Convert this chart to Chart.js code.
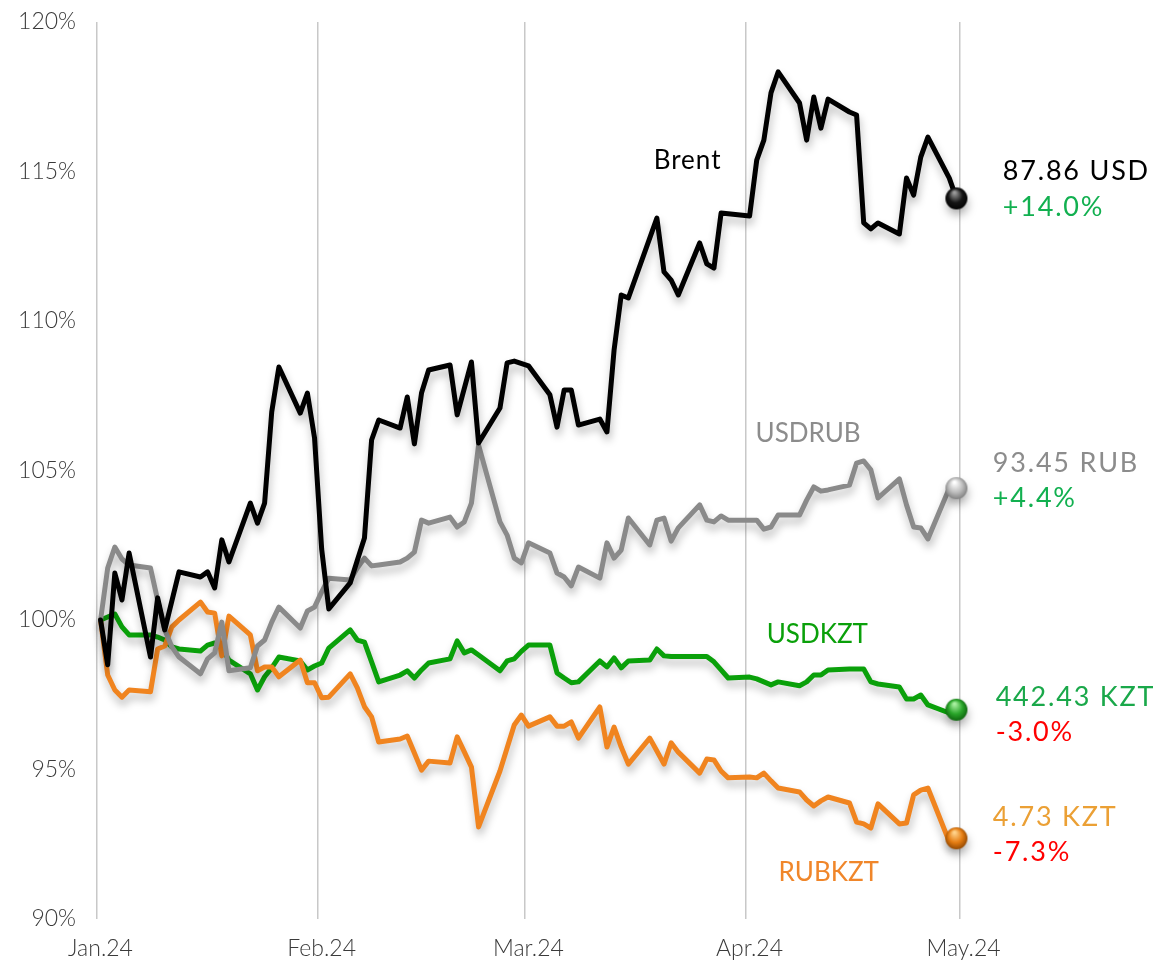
<!DOCTYPE html>
<html>
<head>
<meta charset="utf-8">
<script src="https://cdn.jsdelivr.net/npm/chart.js@4.4.1/dist/chart.umd.min.js"></script>
<style>
html,body{margin:0;padding:0;background:#fff;}
#wrap{width:1153px;height:962px;position:relative;}
</style>
</head>
<body>
<div id="wrap"><canvas id="c"></canvas></div>
<script>
// ---- tick labels ----
const monthLabels = ['Jan.24','Feb.24','Mar.24','Apr.24','May.24'];
const monthTickDays = [-0.5, 30.5, 59.5, 90.5, 120.5]; // boundaries between months (day 0 = 1 Jan 2024)

// ---- Brent ----
const brentDays = [0,1,2,3,4,7,8,9,11,14,15,16,17,18,21,22,23,24,25,28,29,30,31,32,35,36,37,38,39,42,43,44,45,46,49,50,52,53,56,57,58,60,63,64,65,66,67,70,71,72,73,74,78,79,80,81,84,85,86,87,91,92,93,94,95,98,99,100,101,102,105,106,107,108,109,112,113,114,115,116,119,120];
const brentVals = [100.0,98.5,101.57,100.67,102.24,98.76,100.74,99.67,101.61,101.44,101.61,101.07,102.68,101.94,103.91,103.24,103.91,106.96,108.46,106.92,107.59,106.09,102.37,100.37,101.24,102.0,102.74,106.02,106.69,106.42,107.46,105.89,107.59,108.36,108.53,106.86,108.63,105.92,107.09,108.6,108.66,108.5,107.53,106.45,107.69,107.69,106.52,106.72,106.29,109.03,110.87,110.77,113.44,111.64,111.37,110.87,112.61,111.91,111.77,113.61,113.51,115.38,116.05,117.63,118.33,117.29,116.05,117.49,116.45,117.42,116.99,116.89,113.28,113.08,113.28,112.91,114.78,114.21,115.48,116.15,114.78,114.1];

// ---- common trading days for FX series ----
const fxDays = [0,1,2,3,4,7,8,9,10,11,14,15,16,17,18,21,22,23,24,25,28,29,30,31,32,35,36,37,38,39,42,43,44,45,46,49,50,51,52,53,56,57,58,59,60,63,64,65,66,67,70,71,72,73,74,77,78,79,80,81,84,85,86,87,88,91,92,93,94,95,98,99,100,101,102,105,106,107,108,109,112,113,114,115,116,119,120];

const usdrubVals = [100.0,101.74,102.44,102.04,101.84,101.74,100.67,99.67,99.1,98.76,98.2,98.7,98.9,99.93,98.3,98.4,99.13,99.33,99.93,100.43,99.73,100.3,100.43,100.94,101.4,101.34,101.74,102.07,101.81,101.84,101.94,102.07,102.27,103.34,103.24,103.44,103.11,103.28,103.91,105.85,103.28,102.84,102.07,101.91,102.58,102.24,101.57,101.44,101.14,101.77,101.4,102.58,102.07,102.34,103.41,102.51,103.34,103.41,102.64,103.08,103.85,103.34,103.28,103.48,103.34,103.34,103.34,103.04,103.11,103.51,103.51,104.01,104.45,104.31,104.35,104.51,105.25,105.32,105.02,104.08,104.72,103.85,103.11,103.08,102.71,104.41,104.41];

const usdkztVals = [100.0,100.1,100.2,99.77,99.5,99.5,99.43,99.33,99.1,99.03,98.96,99.16,99.23,99.06,98.66,98.2,97.66,98.1,98.4,98.76,98.63,98.33,98.46,98.56,99.06,99.67,99.33,99.26,98.6,97.93,98.16,98.3,98.06,98.33,98.56,98.7,99.3,98.9,99.0,98.83,98.3,98.63,98.7,98.95,99.16,99.16,98.23,98.06,97.9,97.93,98.63,98.43,98.73,98.4,98.63,98.66,99.03,98.8,98.78,98.78,98.78,98.78,98.6,98.33,98.06,98.09,98.03,97.93,97.83,97.93,97.8,97.93,98.16,98.16,98.33,98.36,98.36,98.36,97.93,97.86,97.76,97.36,97.36,97.49,97.16,96.89,97.0];

const rubkztVals = [100.0,98.16,97.66,97.42,97.66,97.6,99.03,99.13,99.77,100.0,100.6,100.27,100.23,98.8,100.13,99.5,98.3,98.43,98.43,98.1,98.66,97.9,97.9,97.4,97.42,98.2,97.73,97.1,96.76,95.92,96.02,96.12,95.55,94.98,95.28,95.22,96.09,95.59,95.08,93.08,94.95,95.72,96.49,96.82,96.45,96.76,96.45,96.45,96.59,96.05,97.09,95.75,96.42,95.75,95.18,96.05,95.62,95.18,95.89,95.58,94.88,95.35,95.32,94.95,94.72,94.75,94.72,94.88,94.62,94.38,94.25,93.98,93.78,93.95,94.08,93.88,93.24,93.18,93.04,93.85,93.18,93.21,94.15,94.31,94.38,92.58,92.7];

// ---- annotation texts ----
const seriesNames = ['Brent','USDRUB','USDKZT','RUBKZT'];
const seriesNameDay = [82.3, 99.2, 100.5, 102.1];
const seriesNamePct = [115.38, 106.25, 99.5, 91.54];
const lastValueLabels = ['87.86 USD','93.45 RUB','442.43 KZT','4.73 KZT'];
const changeLabels = ['+14.0%','+4.4%','-3.0%','-7.3%'];
const labelDay = [126.5, 125.1, 125.5, 125.1];
const valueLabelPct = [115.02, 105.25, 97.42, 93.41];
const changeLabelPct = [113.81, 104.08, 96.25, 92.24];

// ---- styling ----
const lineColors = ['#000000','#8a8a8a','#0aa00a','#f0841f'];
const nameColors = ['#000000','#8c8c8c','#0aa00a','#f0862a'];
const valueColors = ['#000000','#8c8c8c','#1aa84a','#eba035'];
const changeColors = ['#12b050','#12b050','#ff0000','#ff0000'];
const sphereColors = [
  ['#9a9a9a','#151515','#000000'],
  ['#ffffff','#bdbdbd','#7a7a7a'],
  ['#a8f0a0','#2aa52a','#0b5e0b'],
  ['#ffd28a','#e57d12','#8a4300']
];

function makeSphere(cols){
  const r = 11, s = 2*r+2;
  const c = document.createElement('canvas');
  c.width = s; c.height = s;
  const g = c.getContext('2d');
  const grad = g.createRadialGradient(s/2-2, s/2-6, 1, s/2, s/2, r+1);
  grad.addColorStop(0, cols[0]);
  grad.addColorStop(0.55, cols[1]);
  grad.addColorStop(1, cols[2]);
  g.fillStyle = grad;
  g.beginPath(); g.arc(s/2, s/2, r, 0, Math.PI*2); g.fill();
  return c;
}

function pts(days, vals){ return days.map((d,i)=>({x:d, y:vals[i]})); }

const seriesData = [pts(brentDays,brentVals), pts(fxDays,usdrubVals), pts(fxDays,rubkztVals), pts(fxDays,usdkztVals)];
const seriesIdx = [0,1,3,2]; // dataset order -> style index (Brent, USDRUB, RUBKZT, USDKZT)

const datasets = seriesData.map((data, k) => {
  const si = seriesIdx[k];
  const sphere = makeSphere(sphereColors[si]);
  return {
    label: seriesNames[si],
    data: data,
    borderColor: lineColors[si],
    backgroundColor: lineColors[si],
    borderWidth: 5,
    borderJoinStyle: 'round',
    borderCapStyle: 'round',
    tension: 0,
    fill: false,
    clip: false,
    pointStyle: sphere,
    pointRadius: (ctx) => ctx.dataIndex === data.length - 1 ? 11 : 0,
    pointHoverRadius: 0
  };
});

const shadowPlugin = {
  id: 'lineShadow',
  beforeDatasetDraw(chart){
    const ctx = chart.ctx;
    ctx.save();
    ctx.shadowColor = 'rgba(0,0,0,0.28)';
    ctx.shadowBlur = 9;
    ctx.shadowOffsetX = 1;
    ctx.shadowOffsetY = 6;
  },
  afterDatasetDraw(chart){ chart.ctx.restore(); }
};

const textPlugin = {
  id: 'texts',
  afterDatasetsDraw(chart){
    const ctx = chart.ctx, xs = chart.scales.x, ys = chart.scales.y;
    ctx.save();
    ctx.textBaseline = 'middle';
    ctx.font = '400 26px Lato';
    ctx.textAlign = 'center';
    seriesNames.forEach((t,i)=>{
      ctx.fillStyle = nameColors[i];
      ctx.letterSpacing = i === 0 ? '1px' : '0px';
      ctx.fillText(t, xs.getPixelForValue(seriesNameDay[i]), ys.getPixelForValue(seriesNamePct[i]));
    });
    ctx.textAlign = 'left';
    ctx.font = '400 27px Lato';
    ctx.letterSpacing = '1.8px';
    lastValueLabels.forEach((t,i)=>{
      ctx.fillStyle = valueColors[i];
      ctx.fillText(t, xs.getPixelForValue(labelDay[i]), ys.getPixelForValue(valueLabelPct[i]));
      ctx.fillStyle = changeColors[i];
      ctx.fillText(changeLabels[i], xs.getPixelForValue(labelDay[i]), ys.getPixelForValue(changeLabelPct[i]));
    });
    ctx.restore();
  }
};

new Chart(document.getElementById('c'), {
  type: 'line',
  data: { datasets },
  options: {
    responsive: true,
    maintainAspectRatio: false,
    animation: false,
    events: [],
    layout: { padding: { top: 22, right: 193, bottom: 0, left: 0 } },
    plugins: { legend: { display: false }, tooltip: { enabled: false } },
    scales: {
      x: {
        type: 'linear',
        min: monthTickDays[0],
        max: monthTickDays[monthTickDays.length-1],
        afterBuildTicks: (s) => { s.ticks = monthTickDays.map(v => ({ value: v })); },
        afterFit: (s) => { s.height = 43; s.paddingLeft = 0; s.paddingRight = 0; },
        grid: { display: true, color: '#c8c8c8', lineWidth: 1.5, drawTicks: false },
        border: { display: false },
        ticks: {
          autoSkip: false, maxRotation: 0, padding: 16, labelOffset: 3.5,
          color: '#3a3a3a', font: { family: 'Lato', size: 23, weight: '300' },
          callback: (v, i) => monthLabels[i]
        }
      },
      y: {
        min: 90, max: 120,
        afterFit: (s) => { s.width = 97; s.paddingTop = 0; s.paddingBottom = 0; },
        grid: { display: false, drawTicks: false },
        border: { display: false },
        ticks: {
          stepSize: 5, padding: 21,
          color: '#3a3a3a', font: { family: 'Lato', size: 23, weight: '300' },
          callback: (v) => v + '%'
        }
      }
    }
  },
  plugins: [shadowPlugin, textPlugin]
});
</script>
</body>
</html>
